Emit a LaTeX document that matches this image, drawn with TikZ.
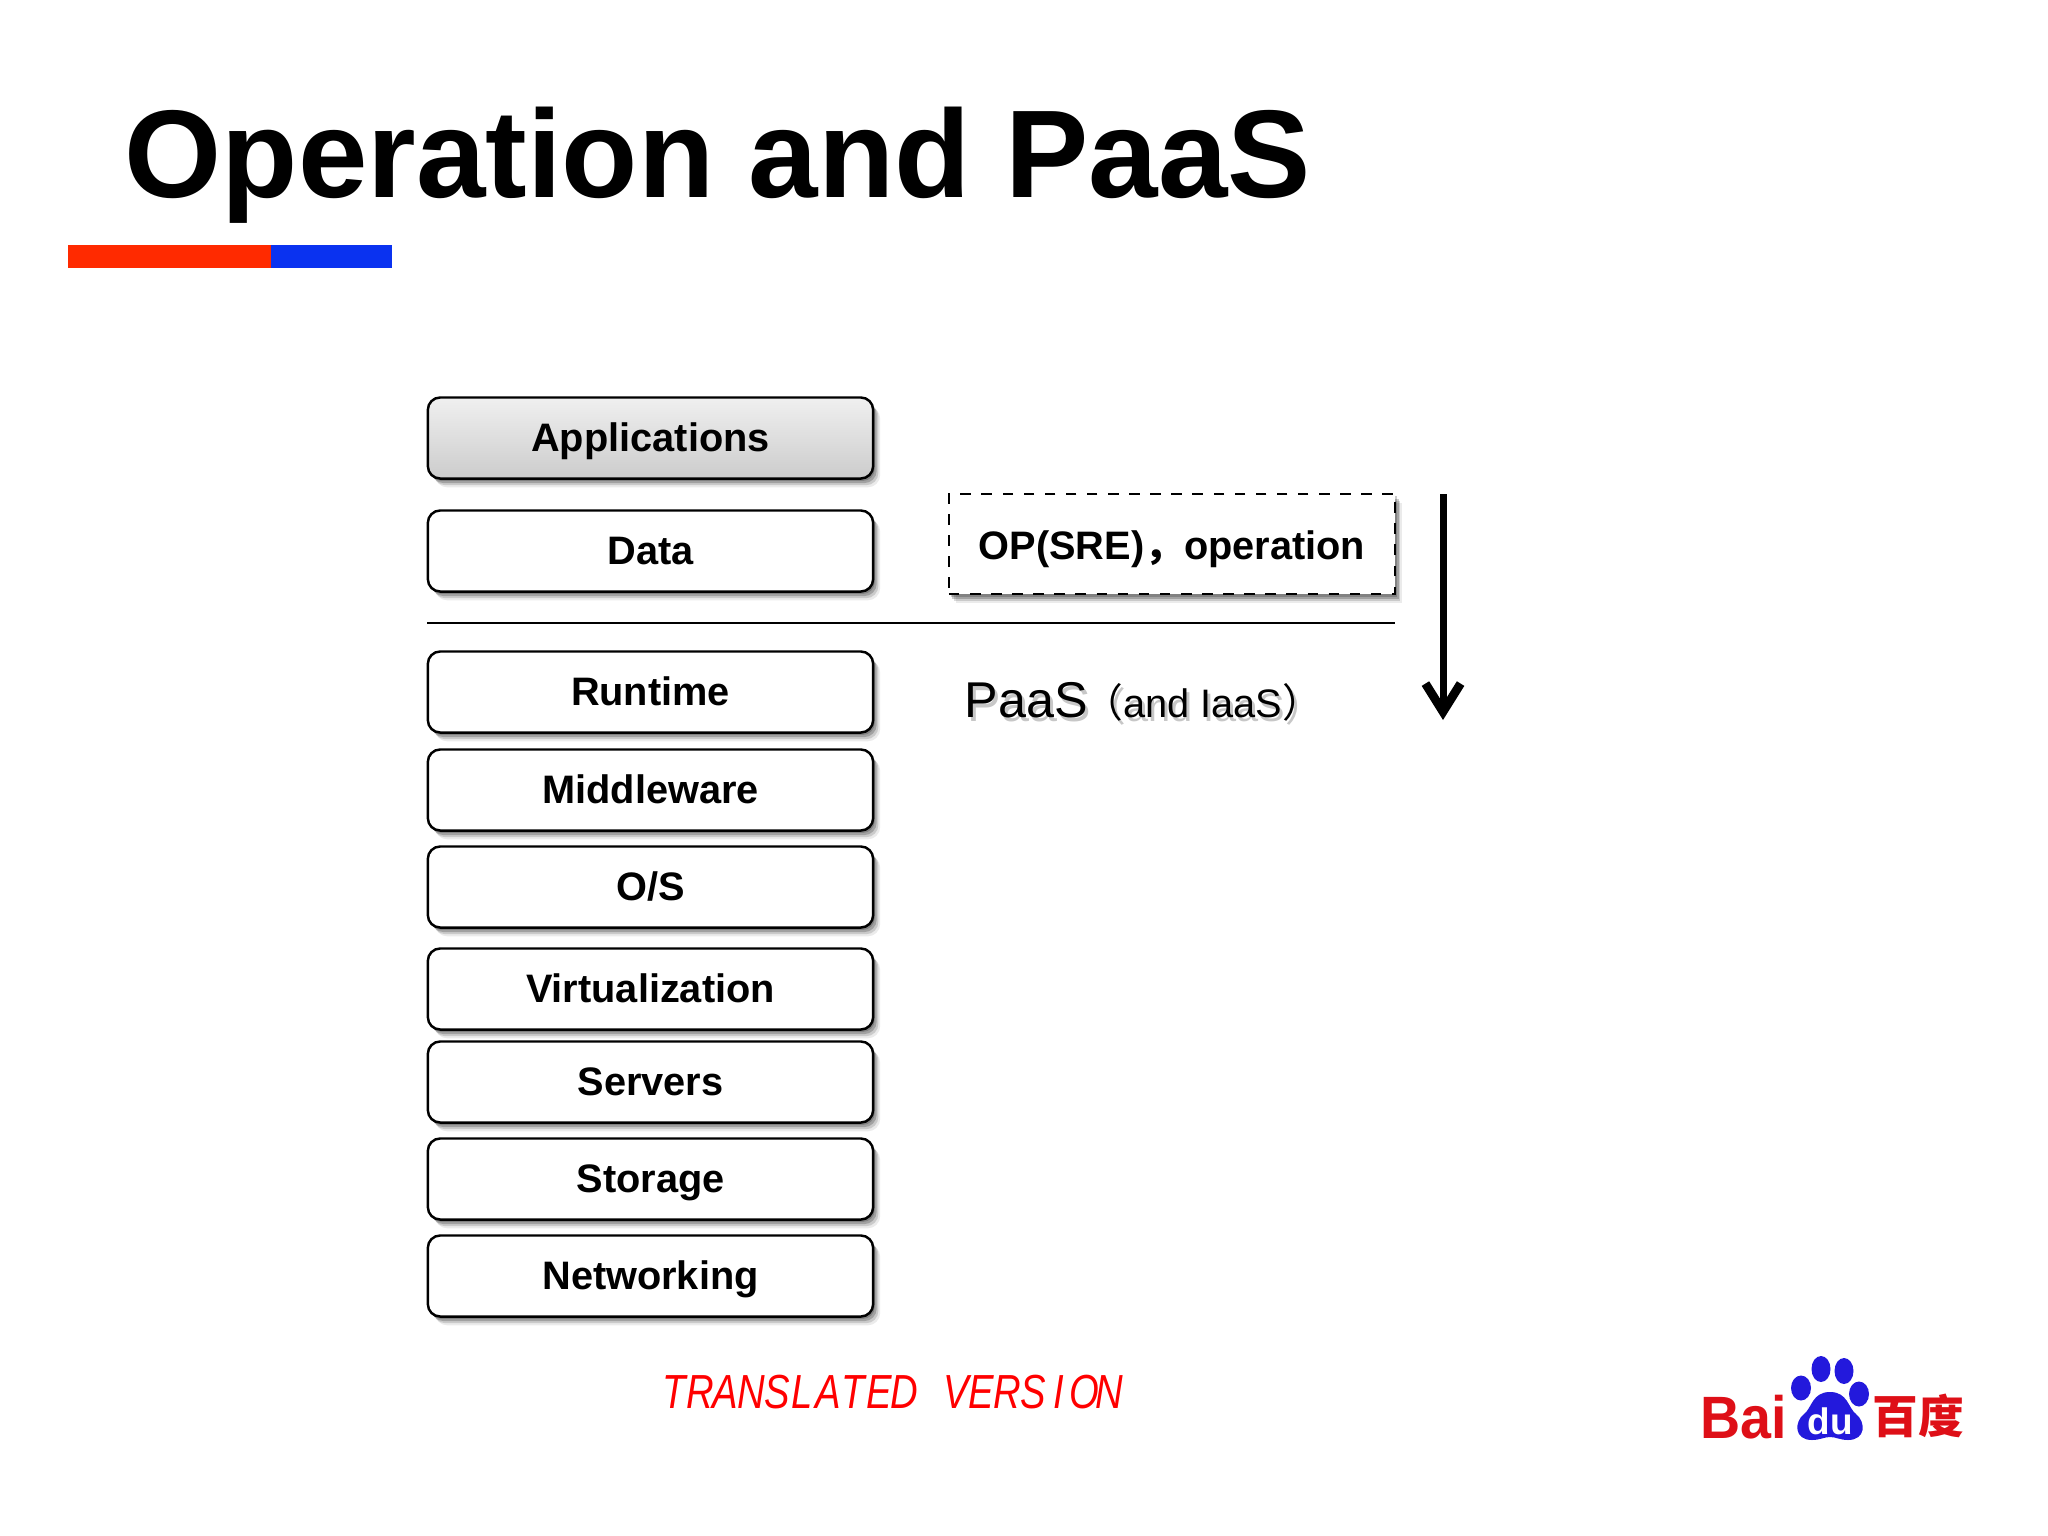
\documentclass[tikz,border=0pt]{standalone}
\usepackage{fontspec}
\usepackage{xcolor}
\setmainfont{Liberation Sans}
\newfontfamily\cjk{Noto Sans CJK SC}
\usetikzlibrary{arrows.meta,shadows}
\definecolor{baiduRed}{HTML}{de0f17}
\definecolor{baiduBlue}{HTML}{2319dc}
\definecolor{barRed}{HTML}{ff2a00}
\definecolor{barBlue}{HTML}{0a32f0}
\newcommand{\stampcell}[1]{\makebox[9.1pt][c]{#1}}
\tikzset{
    softshadow/.style={
        drop shadow={shadow xshift=0.5pt, shadow yshift=-0.7pt, opacity=0.2, fill=black},
        drop shadow={shadow xshift=1.0pt, shadow yshift=-1.3pt, opacity=0.2, fill=black},
        drop shadow={shadow xshift=1.5pt, shadow yshift=-1.9pt, opacity=0.14, fill=black},
        drop shadow={shadow xshift=2.0pt, shadow yshift=-2.5pt, opacity=0.08, fill=black}},
    stackbox/.style={draw=black, line width=0.7pt, fill=white, rounded corners=3.5pt, outer sep=0pt,
        minimum width=4.45cm, minimum height=0.81cm, softshadow,
        font=\fontsize{11.3pt}{13pt}\selectfont\bfseries, text height=7.5pt, text depth=0pt},
}

\begin{document}
\begin{tikzpicture}[x=0.01cm, y=-0.01cm]
    \useasboundingbox (0, 0) rectangle (2048, 1536);
    \node[anchor=base west, inner sep=0pt, font=\fontsize{35.5pt}{40pt}\selectfont\bfseries] (title) at (124, 197) {Operation and PaaS};
    \fill[barRed] (68, 245) rectangle (271, 268);
    \fill[barBlue] (271, 245) rectangle (392, 268);

    \node[stackbox, top color=black!6, bottom color=black!20] (applications) at (650.5, 438) {Applications};
    \foreach \name/\y/\txt in {data/551/Data, runtime/692/Runtime, middleware/790/Middleware, os/887/{O/S}, virtualization/989/Virtualization, servers/1082/Servers, storage/1179/Storage, networking/1276/Networking}
        \node[stackbox] (\name) at (650.5, \y) {\txt};

    \node[draw=black, line width=0.7pt, dashed, fill=white, outer sep=0pt, minimum width=4.46cm, minimum height=1cm, softshadow,
        font=\fontsize{11.3pt}{13pt}\selectfont\bfseries, text height=9pt, text depth=0pt] (op) at (1172, 544) {OP(SRE){\cjk，}operation};

    \coordinate (ruleL) at (427, 623);
    \coordinate (ruleR) at (1395, 623);
    \draw[line width=0.7pt] (ruleL) -- (ruleR);

    \coordinate (arrowTop) at (1443, 494);
    \coordinate (arrowTip) at (1443, 720);
    \draw[line width=2pt, -{Straight Barb[length=8pt, width=10pt, line width=2.5pt]}] (arrowTop) -- (arrowTip);

    % text with its shadow behind
    \node[anchor=base west, inner sep=0pt, text=black!22, font=\fontsize{14.3pt}{17pt}\selectfont] at (967, 721) {PaaS};
    \node[anchor=base west, inner sep=0pt, font=\fontsize{14.3pt}{17pt}\selectfont] (paas) at (964, 717) {PaaS};
    \node[anchor=base west, inner sep=0pt, text=black!22, font=\fontsize{11.3pt}{13pt}\selectfont] at (1086, 721) {{\cjk（}and IaaS{\cjk）}};
    \node[anchor=base west, inner sep=0pt, font=\fontsize{11.3pt}{13pt}\selectfont] (iaas) at (1083, 717) {{\cjk（}and IaaS{\cjk）}};

    \node[anchor=base west, inner sep=0pt, text=red, xscale=0.8, font=\fontsize{13.6pt}{16pt}\selectfont\itshape] (stamp) at (661, 1408)
        {\foreach \ch in {T,R,A,N,S,L,A,T,E,D,{},V,E,R,S,I,O,N}{\stampcell{\ch}}};

    % logo
    \node[anchor=base west, inner sep=0pt, text=baiduRed, xscale=0.93, font=\fontsize{17pt}{20pt}\selectfont\bfseries] (bai) at (1700, 1438) {Bai};
    \fill[baiduBlue] (1821, 1369) ellipse [x radius=9.5, y radius=13];
    \fill[baiduBlue] (1844, 1371) ellipse [x radius=9.5, y radius=13];
    \fill[baiduBlue] (1801, 1388) ellipse [x radius=10, y radius=12.5];
    \fill[baiduBlue] (1859, 1394) ellipse [x radius=10, y radius=12.5];
    \fill[baiduBlue] (1830, 1392) .. controls (1848, 1392) and (1848, 1408) .. (1856, 1414)
        .. controls (1866, 1422) and (1866, 1440) .. (1848, 1440)
        .. controls (1840, 1440) and (1836, 1437) .. (1830, 1437)
        .. controls (1824, 1437) and (1820, 1440) .. (1812, 1440)
        .. controls (1794, 1440) and (1794, 1422) .. (1804, 1414)
        .. controls (1812, 1408) and (1812, 1392) .. (1830, 1392) -- cycle;
    \node[inner sep=0pt, text=white, font=\fontsize{10.5pt}{12pt}\selectfont\bfseries] (du) at (1830, 1421) {du};
    \node[anchor=west, inner sep=0pt, text=baiduRed, font=\fontsize{13pt}{15pt}\selectfont\cjk\bfseries] (baidu) at (1872, 1416) {百度};
\end{tikzpicture}
\end{document}
